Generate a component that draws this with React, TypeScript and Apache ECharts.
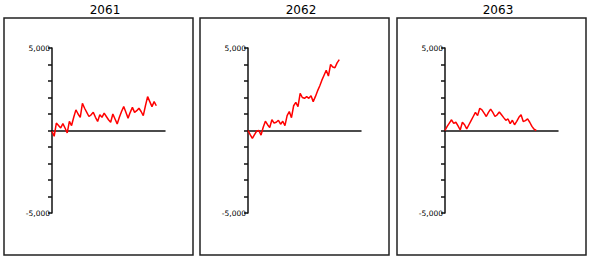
import React, { useEffect, useRef } from "react";
import * as echarts from "echarts";

const titles = ["2061", "2062", "2063"];
const yTickLabels: Record<number, string> = { 5000: "5,000", [-5000]: "-5,000" };

const values2061 = [
  -50, -350, 450, 300, 150, 420, 150, -150, 550, 300, 800, 1250, 1000, 800, 1650, 1350,
  1100, 850, 950, 1100, 800, 550, 950, 800, 1050, 850, 650, 500, 1000, 700, 400, 800,
  1150, 1450, 1100, 750, 1100, 1400, 1100, 1200, 1350, 1150, 900, 1500, 2050, 1750, 1450,
  1750, 1500,
];
const values2062 = [
  0, -250, -480, -250, -30, 0, -280, 200, 560, 350, 180, 650, 450, 500, 620, 380, 560, 300,
  900, 1150, 780, 1500, 1700, 1450, 2250, 2000, 1950, 2050, 1950, 2100, 1750, 2050, 2400,
  2700, 3050, 3350, 3650, 3300, 4000, 3850, 3800, 4100, 4300,
];
const values2063 = [
  0, 250, 450, 650, 430, 500, 280, 30, 500, 350, 100, 350, 600, 850, 1100, 900, 1350, 1250,
  1050, 850, 1100, 1300, 1100, 850, 950, 1120, 950, 780, 620, 700, 420, 620, 350, 550, 800,
  950, 550, 600, 700, 500, 250, 80, 0,
];
const allValues = [values2061, values2062, values2063];
const xMax = 52;

export default function App() {
  const ref = useRef<HTMLDivElement>(null);
  useEffect(() => {
    if (!ref.current) return;
    const chart = echarts.init(ref.current, null, { renderer: "svg" });
    const boxLefts = [4, 200, 397];
    const boxW = 189;
    const grids = boxLefts.map((bl) => ({ left: bl + 48, top: 48, width: 113, height: 165 }));
    const font = "DejaVu Sans";
    chart.setOption({
      animation: false,
      backgroundColor: "#fff",
      grid: grids,
      xAxis: grids.map((_, i) => ({
        type: "value",
        gridIndex: i,
        min: 0,
        max: xMax,
        axisLine: { show: true, onZero: true, lineStyle: { color: "#111", width: 1.5 } },
        axisTick: { show: false },
        axisLabel: { show: false },
        splitLine: { show: false },
      })),
      yAxis: grids.map((_, i) => ({
        type: "value",
        gridIndex: i,
        min: -5000,
        max: 5000,
        interval: 1000,
        axisLine: { show: true, onZero: false, lineStyle: { color: "#111", width: 1.5 } },
        axisTick: { show: true, length: 4, lineStyle: { color: "#111", width: 1.5 } },
        axisLabel: {
          show: true,
          margin: 2,
          fontFamily: font,
          fontSize: 7.5,
          color: "#000",
          formatter: (v: number) => yTickLabels[v] ?? "",
        },
        splitLine: { show: false },
      })),
      series: allValues.map((vals, i) => ({
        type: "line",
        xAxisIndex: i,
        yAxisIndex: i,
        data: vals.map((v, k) => [k, v]),
        showSymbol: false,
        symbol: "none",
        lineStyle: { color: "#ff0000", width: 1.5 },
      })),
      graphic: [
        ...boxLefts.map((bl) => ({
          type: "rect",
          shape: { x: bl, y: 18, width: boxW, height: 237 },
          style: { fill: "none", stroke: "#222", lineWidth: 1.5 },
          silent: true,
        })),
        ...boxLefts.map((bl, i) => ({
          type: "text",
          x: bl + 101,
          y: 10,
          style: {
            text: titles[i],
            font: `12px "${font}"`,
            fill: "#000",
            align: "center",
            verticalAlign: "middle",
            textAlign: "center",
            textVerticalAlign: "middle",
          },
        })),
      ],
    });
    return () => chart.dispose();
  }, []);
  return (
    <div
      ref={ref}
      style={{ position: "fixed", left: 0, top: 0, width: 590, height: 259, background: "#fff" }}
    />
  );
}
